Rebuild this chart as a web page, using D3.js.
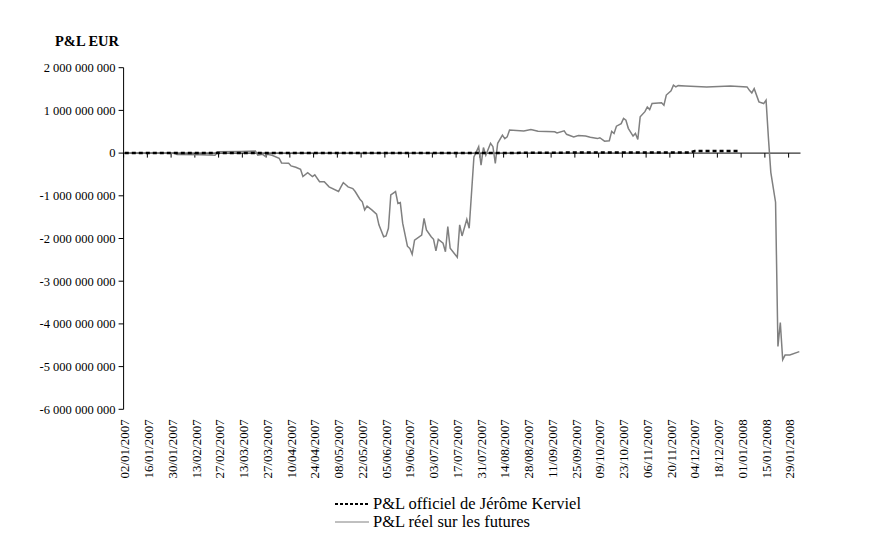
<!DOCTYPE html>
<html>
<head>
<meta charset="utf-8">
<script src="https://cdn.jsdelivr.net/npm/d3@7"></script>
<style>
  body { margin: 0; background: #fff; }
  text { font-family: "Liberation Serif", "Times New Roman", serif; }
</style>
</head>
<body>
<script>
// trading days on the category axis (weekdays from 02/01/2007)
const nDays = 285;

const tickLabels = ["02/01/2007", "16/01/2007", "30/01/2007", "13/02/2007", "27/02/2007",
  "13/03/2007", "27/03/2007", "10/04/2007", "24/04/2007", "08/05/2007", "22/05/2007",
  "05/06/2007", "19/06/2007", "03/07/2007", "17/07/2007", "31/07/2007", "14/08/2007",
  "28/08/2007", "11/09/2007", "25/09/2007", "09/10/2007", "23/10/2007", "06/11/2007",
  "20/11/2007", "04/12/2007", "18/12/2007", "01/01/2008", "15/01/2008", "29/01/2008"];

const yTicks = [2e9, 1e9, 0, -1e9, -2e9, -3e9, -4e9, -5e9, -6e9];

// [trading day, P&L in billions EUR]
const officialPnl = [[0, 0], [160, 0], [170, 0.01], [238, 0.015], [240, 0.05], [258, 0.05]];

const realPnl = [[0, 0], [21, 0], [22, -0.03], [32, -0.04], [38, -0.05], [39, 0.03], [49, 0.04],
  [55, 0.05], [56, -0.05], [58, -0.03], [59, -0.07], [60, -0.03], [62, -0.05], [65, -0.12],
  [66, -0.23], [69, -0.24], [70, -0.3], [72, -0.33], [74, -0.38], [75, -0.55], [77, -0.46],
  [79, -0.55], [80, -0.51], [82, -0.67], [84, -0.67], [86, -0.79], [90, -0.9], [91, -0.79],
  [92, -0.69], [94, -0.79], [96, -0.83], [97, -0.9], [99, -1.08], [100, -1.14], [101, -1.33],
  [102, -1.24], [104, -1.33], [106, -1.43], [107, -1.68], [109, -1.96], [110, -1.94],
  [111, -1.76], [112, -0.98], [114, -0.9], [115, -1.18], [116, -1.16], [117, -1.64],
  [119, -2.18], [120, -2.23], [121, -2.37], [122, -2.04], [125, -1.92], [126, -1.53],
  [127, -1.8], [129, -1.96], [130, -2.02], [131, -2.29], [132, -2.02], [134, -2.11],
  [135, -2.31], [136, -1.72], [137, -2.23], [140, -2.44], [141, -1.68], [142, -1.94],
  [144, -1.55], [145, -1.76], [147, -0.09], [148, 0.03], [149, 0.15], [150, -0.28],
  [151, 0.13], [152, -0.05], [154, 0.23], [155, 0.15], [156, -0.24], [157, 0.23], [159, 0.42],
  [160, 0.34], [161, 0.38], [162, 0.54], [168, 0.52], [171, 0.55], [174, 0.51], [181, 0.5],
  [182, 0.47], [185, 0.52], [186, 0.44], [189, 0.38], [191, 0.41], [194, 0.4], [196, 0.37],
  [199, 0.34], [200, 0.36], [202, 0.28], [204, 0.29], [205, 0.51], [206, 0.46], [207, 0.63],
  [209, 0.69], [210, 0.81], [211, 0.77], [212, 0.58], [214, 0.4], [215, 0.46], [216, 0.32],
  [217, 0.85], [219, 0.97], [220, 1.08], [221, 1.02], [222, 1.16], [226, 1.18], [227, 1.12],
  [228, 1.36], [230, 1.46], [231, 1.59], [232, 1.55], [233, 1.58], [236, 1.57], [245, 1.55],
  [255, 1.57], [262, 1.55], [263, 1.47], [264, 1.41], [265, 1.51], [267, 1.2], [269, 1.16],
  [270, 1.24], [271, 0.35], [272, -0.45], [273, -0.8], [274, -1.15], [275, -4.53],
  [276, -3.97], [277, -4.84], [278, -4.73], [280, -4.73], [284, -4.65]];

const legendItems = ["P&L officiel de Jérôme Kerviel", "P&L réel sur les futures"];

const W = 870, H = 538;
const plotLeft = 123.6, plotRight = 800.5, plotTop = 67.7, plotBottom = 409.3;

const svg = d3.select("body").append("svg")
  .attr("width", W)
  .attr("height", H);

const x = d3.scaleBand()
  .domain(d3.range(nDays))
  .range([plotLeft, plotRight]);

const y = d3.scaleLinear()
  .domain([-6e9, 2e9])
  .range([plotBottom, plotTop]);

const fmt = v => d3.format(",")(v).replace(/,/g, " ").replace("−", "-");

// title
svg.append("text")
  .attr("x", 55)
  .attr("y", 46)
  .attr("font-size", 14.5)
  .attr("font-weight", "bold")
  .text("P&L EUR");

// y axis
const yAxis = svg.append("g").attr("transform", `translate(${plotLeft},0)`);
yAxis.append("line")
  .attr("y1", plotTop).attr("y2", plotBottom)
  .attr("stroke", "#000");
const yt = yAxis.selectAll("g.tick").data(yTicks).enter().append("g")
  .attr("transform", d => `translate(0,${y(d)})`);
yt.append("line").attr("x1", -5).attr("x2", 0).attr("stroke", "#000");
yt.append("text")
  .attr("x", -8)
  .attr("dy", "0.35em")
  .attr("text-anchor", "end")
  .attr("font-size", 12.5)
  .text(d => fmt(d));

// x axis, crossing at zero, ticks between categories every 10 days
const y0 = y(0);
svg.append("line")
  .attr("x1", plotLeft).attr("x2", plotRight)
  .attr("y1", y0).attr("y2", y0)
  .attr("stroke", "#000");

svg.append("g").selectAll("line").data(tickLabels).enter().append("line")
  .attr("x1", (d, i) => x(i * 10))
  .attr("x2", (d, i) => x(i * 10))
  .attr("y1", y0).attr("y2", y0 + 4.5)
  .attr("stroke", "#000");

svg.append("g").selectAll("text").data(tickLabels).enter().append("text")
  .attr("transform", (d, i) => `translate(${x(i * 10) + x.bandwidth() / 2},${plotBottom + 10}) rotate(-90)`)
  .attr("dy", "0.35em")
  .attr("text-anchor", "end")
  .attr("font-size", 13)
  .text(d => d);

const line = d3.line()
  .x(d => x(d[0]) + x.bandwidth() / 2)
  .y(d => y(d[1] * 1e9));

svg.append("path")
  .datum(realPnl)
  .attr("d", line)
  .attr("fill", "none")
  .attr("stroke", "#808080")
  .attr("stroke-width", 1.5);

svg.append("path")
  .datum(officialPnl)
  .attr("d", line)
  .attr("fill", "none")
  .attr("stroke", "#000")
  .attr("stroke-width", 2.5)
  .attr("stroke-dasharray", "4,3");

// legend
const legend = svg.append("g").attr("transform", "translate(335,504)");
legendItems.forEach((label, i) => {
  const row = legend.append("g").attr("transform", `translate(0,${i * 18})`);
  row.append("line")
    .attr("x1", 0).attr("x2", 34)
    .attr("stroke", i === 0 ? "#000" : "#808080")
    .attr("stroke-width", i === 0 ? 2 : 1)
    .attr("stroke-dasharray", i === 0 ? "3,2" : null);
  row.append("text")
    .attr("x", 38)
    .attr("y", 5)
    .attr("font-size", 16.5)
    .text(label);
});
</script>
</body>
</html>
